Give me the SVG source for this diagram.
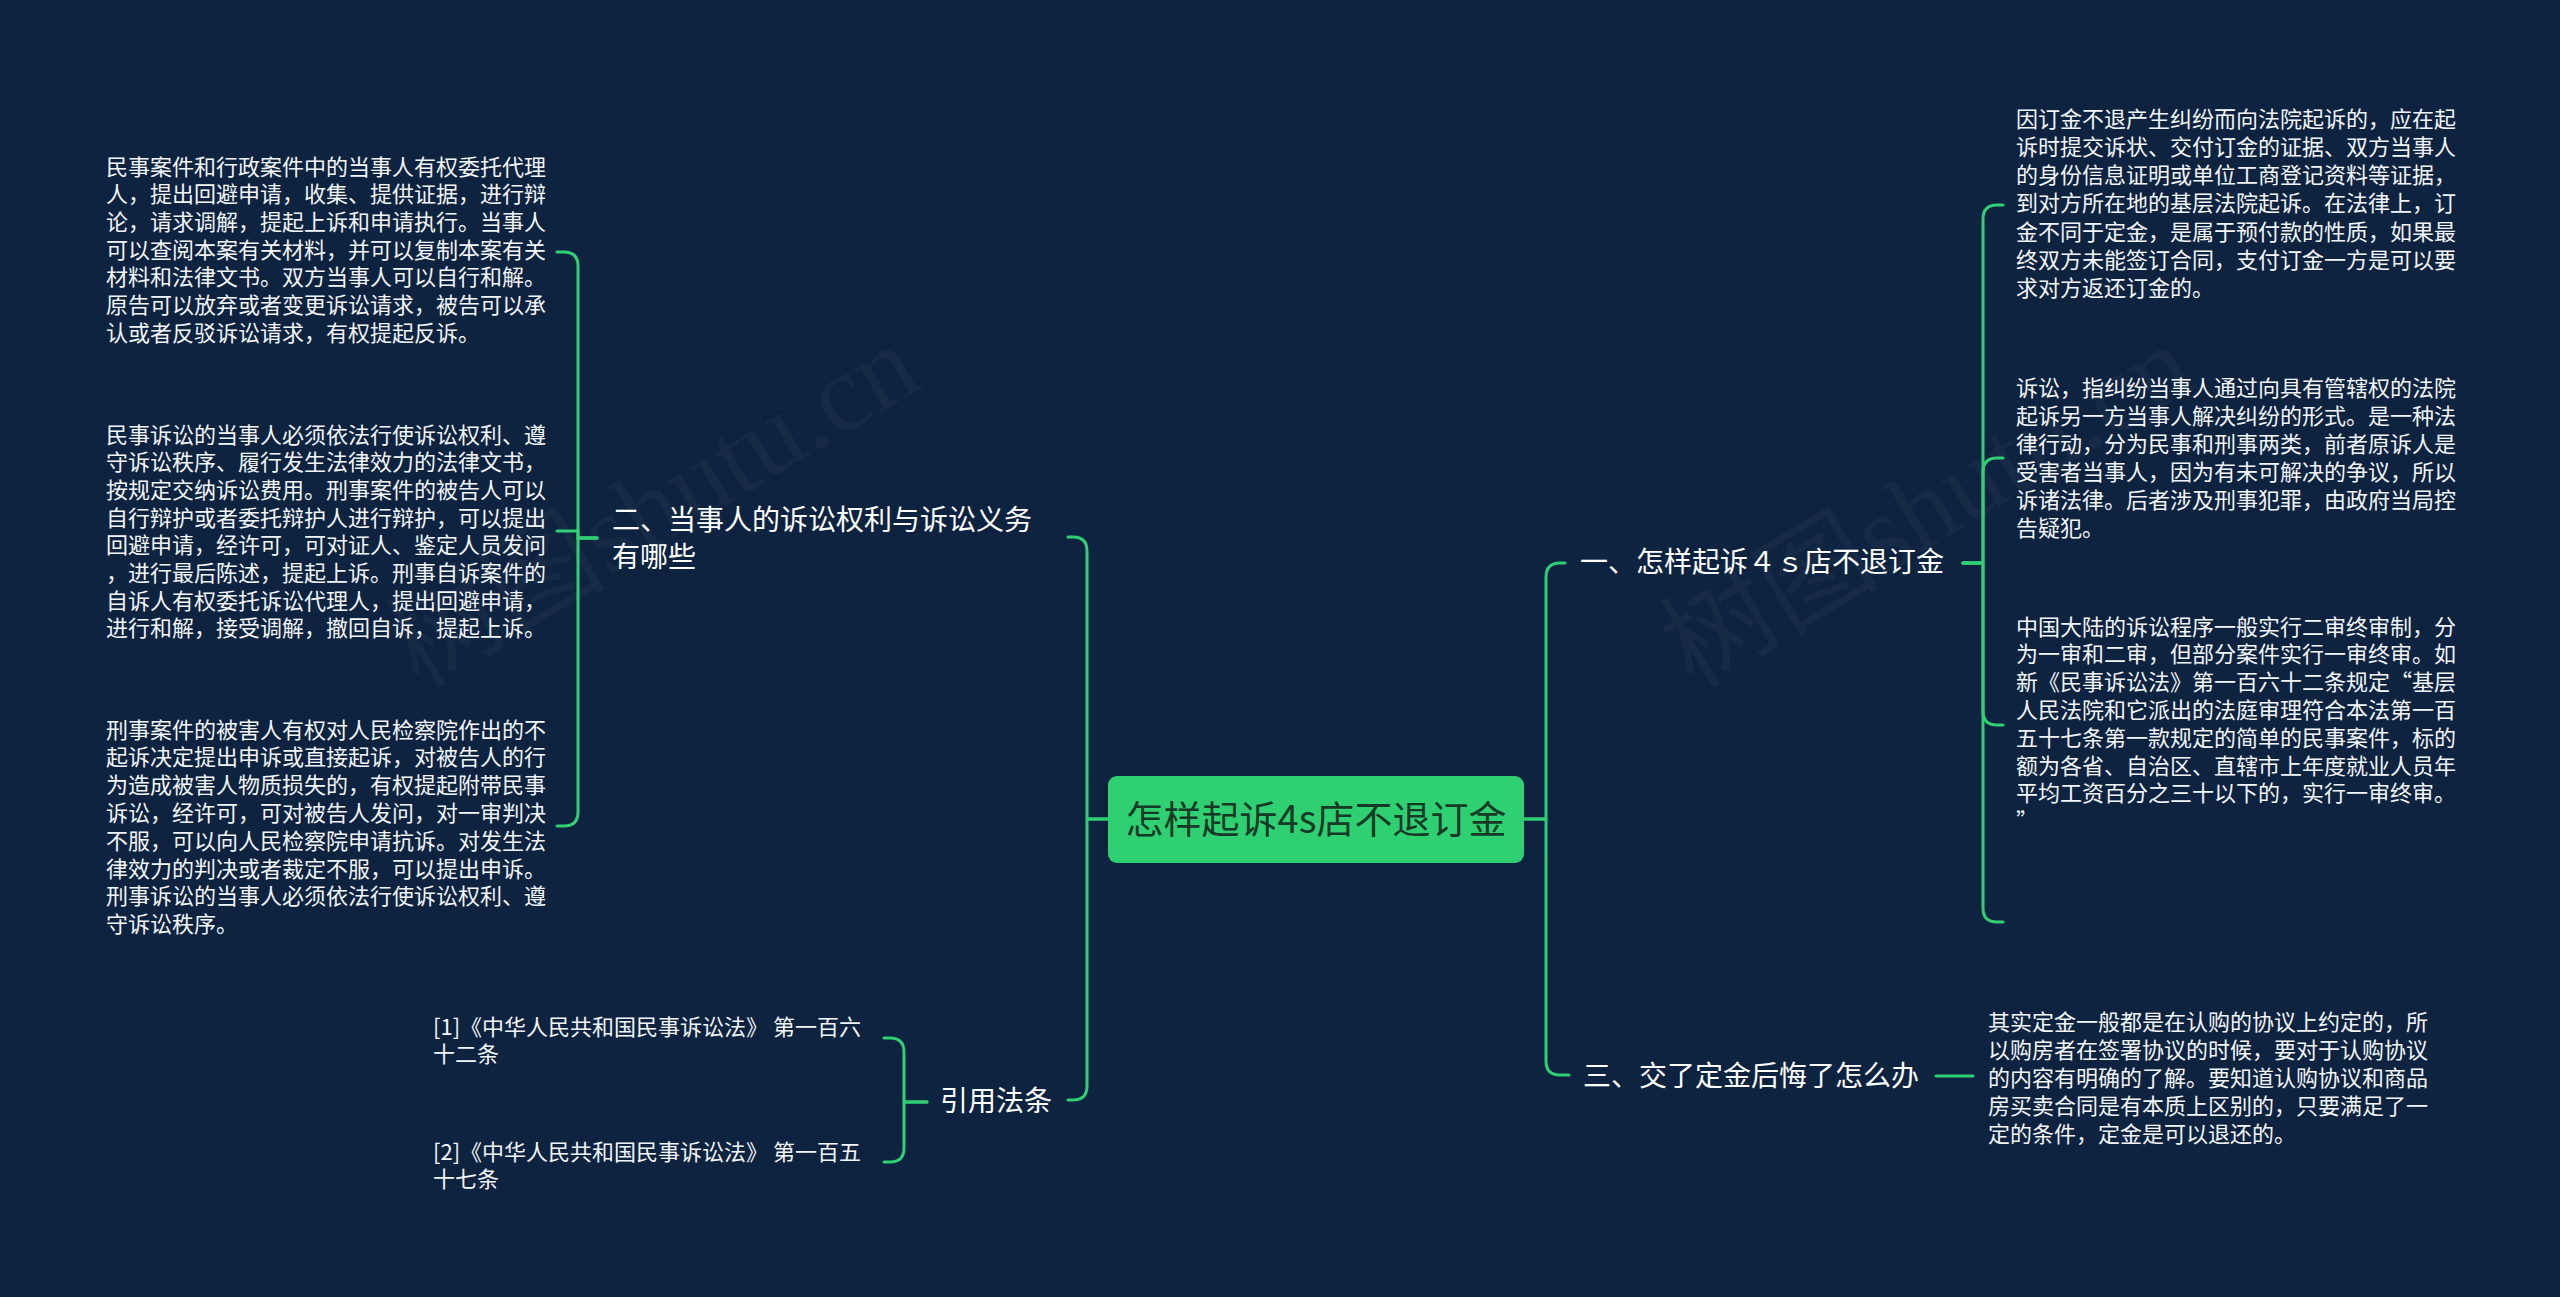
<svg xmlns="http://www.w3.org/2000/svg" width="2560" height="1297" viewBox="0 0 2560 1297">
<style>
.bg{fill:#0e2340}
.wm{font-family:"Liberation Serif","Noto Sans CJK SC",serif;font-size:110px;fill:#ffffff;fill-opacity:0.035}
.c{fill:none;stroke:#2fcf72;stroke-width:3;stroke-linecap:round;stroke-linejoin:round}
.leaf{font-family:"Noto Sans CJK SC","Noto Sans",sans-serif;font-size:22px;fill:#f2f5f8;dominant-baseline:central}
.br{font-family:"Noto Sans CJK SC","Noto Sans",sans-serif;font-size:28px;fill:#ffffff;dominant-baseline:central}
.root{font-family:"Noto Sans CJK SC","Noto Sans",sans-serif;font-size:38px;fill:#173a26;dominant-baseline:central;text-anchor:middle}
</style>
<rect class="bg" x="0" y="0" width="2560" height="1297"/>
<g id="watermarks">
<text class="wm" transform="translate(653,506) rotate(-31)" text-anchor="middle" dominant-baseline="central">树图shutu.cn</text>
<text class="wm" transform="translate(1927,506) rotate(-31)" text-anchor="middle" dominant-baseline="central">树图shutu.cn</text>
</g>
<g id="connectors">
<path class="c" d="M1108,819 H1087 V551 Q1087,537 1073,537 H1068"/>
<path class="c" d="M1108,819 H1087 V1086 Q1087,1100 1073,1100 H1068"/>
<path class="c" d="M1524,819 H1546 V577 Q1546,563 1560,563 H1565"/>
<path class="c" d="M1524,819 H1546 V1061 Q1546,1075 1560,1075 H1569"/>
<path class="c" d="M597,538 H578 V266 Q578,252 564,252 H557"/>
<path class="c" d="M597,538 H578 V531 H557"/>
<path class="c" d="M597,538 H578 V812 Q578,826 564,826 H557"/>
<path class="c" d="M927,1102 H904 V1052 Q904,1038 890,1038 H884"/>
<path class="c" d="M927,1102 H904 V1148 Q904,1162 890,1162 H884"/>
<path class="c" d="M1963,563 H1983 V219 Q1983,205 1997,205 H2003"/>
<path class="c" d="M1963,563 H1983 V472 Q1983,458 1997,458 H2003"/>
<path class="c" d="M1963,563 H1983 V711 Q1983,725 1997,725 H2003"/>
<path class="c" d="M1963,563 H1983 V908 Q1983,922 1997,922 H2003"/>
<path class="c" d="M1936,1076 H1973"/>
</g>
<g id="root">
<rect x="1108" y="776" width="416" height="87" rx="9" fill="#2fd072"/>
<text class="root" x="1316" y="816">怎样起诉4s店不退订金</text>
</g>
<g id="n2">
<text class="br" x="612" y="518">二、当事人的诉讼权利与诉讼义务</text>
<text class="br" x="612" y="555">有哪些</text>
</g>
<g id="n2a">
<text class="leaf" x="106" y="164.5">民事案件和行政案件中的当事人有权委托代理</text>
<text class="leaf" x="106" y="192.2">人，提出回避申请，收集、提供证据，进行辩</text>
<text class="leaf" x="106" y="219.9">论，请求调解，提起上诉和申请执行。当事人</text>
<text class="leaf" x="106" y="247.6">可以查阅本案有关材料，并可以复制本案有关</text>
<text class="leaf" x="106" y="275.3">材料和法律文书。双方当事人可以自行和解。</text>
<text class="leaf" x="106" y="303">原告可以放弃或者变更诉讼请求，被告可以承</text>
<text class="leaf" x="106" y="330.7">认或者反驳诉讼请求，有权提起反诉。</text>
</g>
<g id="n2b">
<text class="leaf" x="106" y="432.5">民事诉讼的当事人必须依法行使诉讼权利、遵</text>
<text class="leaf" x="106" y="460.2">守诉讼秩序、履行发生法律效力的法律文书，</text>
<text class="leaf" x="106" y="487.9">按规定交纳诉讼费用。刑事案件的被告人可以</text>
<text class="leaf" x="106" y="515.6">自行辩护或者委托辩护人进行辩护，可以提出</text>
<text class="leaf" x="106" y="543.3">回避申请，经许可，可对证人、鉴定人员发问</text>
<text class="leaf" x="106" y="571">，进行最后陈述，提起上诉。刑事自诉案件的</text>
<text class="leaf" x="106" y="598.7">自诉人有权委托诉讼代理人，提出回避申请，</text>
<text class="leaf" x="106" y="626.4">进行和解，接受调解，撤回自诉，提起上诉。</text>
</g>
<g id="n2c">
<text class="leaf" x="106" y="727.5">刑事案件的被害人有权对人民检察院作出的不</text>
<text class="leaf" x="106" y="755.3">起诉决定提出申诉或直接起诉，对被告人的行</text>
<text class="leaf" x="106" y="783.1">为造成被害人物质损失的，有权提起附带民事</text>
<text class="leaf" x="106" y="810.9">诉讼，经许可，可对被告人发问，对一审判决</text>
<text class="leaf" x="106" y="838.7">不服，可以向人民检察院申请抗诉。对发生法</text>
<text class="leaf" x="106" y="866.5">律效力的判决或者裁定不服，可以提出申诉。</text>
<text class="leaf" x="106" y="894.3">刑事诉讼的当事人必须依法行使诉讼权利、遵</text>
<text class="leaf" x="106" y="922.1">守诉讼秩序。</text>
</g>
<g id="n4">
<text class="br" x="940" y="1099">引用法条</text>
</g>
<g id="n4a">
<text class="leaf" x="433" y="1024.5">[1]《中华人民共和国民事诉讼法》 第一百六</text>
<text class="leaf" x="433" y="1051.5">十二条</text>
</g>
<g id="n4b">
<text class="leaf" x="433" y="1149.5">[2]《中华人民共和国民事诉讼法》 第一百五</text>
<text class="leaf" x="433" y="1176.5">十七条</text>
</g>
<g id="n1">
<text class="br" x="1580" y="560">一、怎样起诉４ｓ店不退订金</text>
</g>
<g id="n1a">
<text class="leaf" x="2016" y="116.5">因订金不退产生纠纷而向法院起诉的，应在起</text>
<text class="leaf" x="2016" y="144.8">诉时提交诉状、交付订金的证据、双方当事人</text>
<text class="leaf" x="2016" y="173.1">的身份信息证明或单位工商登记资料等证据，</text>
<text class="leaf" x="2016" y="201.4">到对方所在地的基层法院起诉。在法律上，订</text>
<text class="leaf" x="2016" y="229.7">金不同于定金，是属于预付款的性质，如果最</text>
<text class="leaf" x="2016" y="258">终双方未能签订合同，支付订金一方是可以要</text>
<text class="leaf" x="2016" y="286.3">求对方返还订金的。</text>
</g>
<g id="n1b">
<text class="leaf" x="2016" y="385.5">诉讼，指纠纷当事人通过向具有管辖权的法院</text>
<text class="leaf" x="2016" y="413.5">起诉另一方当事人解决纠纷的形式。是一种法</text>
<text class="leaf" x="2016" y="441.5">律行动，分为民事和刑事两类，前者原诉人是</text>
<text class="leaf" x="2016" y="469.5">受害者当事人，因为有未可解决的争议，所以</text>
<text class="leaf" x="2016" y="497.5">诉诸法律。后者涉及刑事犯罪，由政府当局控</text>
<text class="leaf" x="2016" y="525.5">告疑犯。</text>
</g>
<g id="n1c">
<text class="leaf" x="2016" y="624.5">中国大陆的诉讼程序一般实行二审终审制，分</text>
<text class="leaf" x="2016" y="652.3">为一审和二审，但部分案件实行一审终审。如</text>
<text class="leaf" x="2016" y="680.1">新《民事诉讼法》第一百六十二条规定“基层</text>
<text class="leaf" x="2016" y="707.9">人民法院和它派出的法庭审理符合本法第一百</text>
<text class="leaf" x="2016" y="735.7">五十七条第一款规定的简单的民事案件，标的</text>
<text class="leaf" x="2016" y="763.5">额为各省、自治区、直辖市上年度就业人员年</text>
<text class="leaf" x="2016" y="791.3">平均工资百分之三十以下的，实行一审终审。</text>
<text class="leaf" x="2016" y="819.1">”</text>
</g>
<g id="n3">
<text class="br" x="1583" y="1074">三、交了定金后悔了怎么办</text>
</g>
<g id="n3a">
<text class="leaf" x="1988" y="1019.5">其实定金一般都是在认购的协议上约定的，所</text>
<text class="leaf" x="1988" y="1047.5">以购房者在签署协议的时候，要对于认购协议</text>
<text class="leaf" x="1988" y="1075.5">的内容有明确的了解。要知道认购协议和商品</text>
<text class="leaf" x="1988" y="1103.5">房买卖合同是有本质上区别的，只要满足了一</text>
<text class="leaf" x="1988" y="1131.5">定的条件，定金是可以退还的。</text>
</g>
</svg>
